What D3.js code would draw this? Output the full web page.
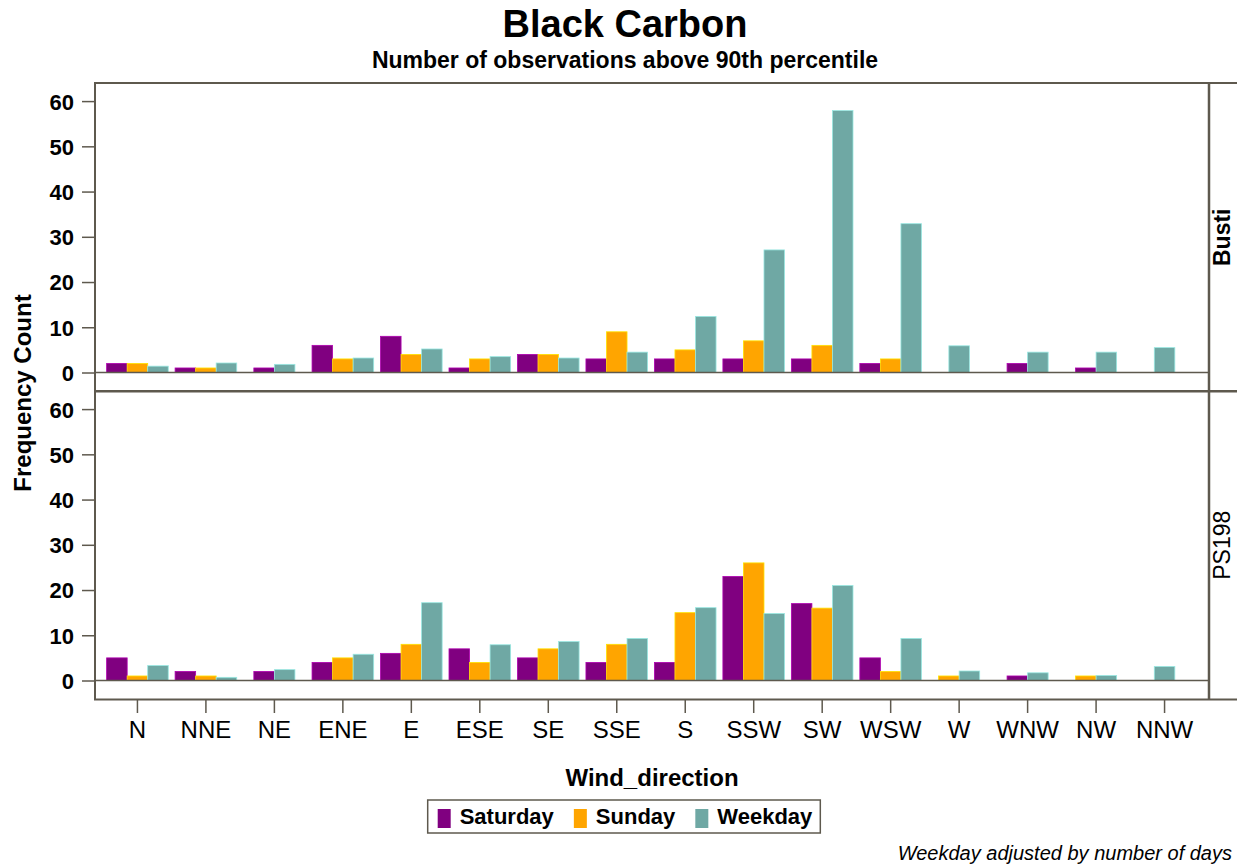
<!DOCTYPE html>
<html lang="en">
<head>
<meta charset="UTF-8">
<title>Black Carbon</title>
<script src="https://d3js.org/d3.v7.min.js"></script>
<style>
    body, html {
        margin: 0;
        padding: 0;
        background: #fff;
    }
    svg text {
        font-family: "Liberation Sans", Arial, sans-serif;
        fill: #000;
    }
</style>
</head>
<body>
<div id="chart"></div>
<script>
    // wind sectors along the x axis
    const categories = ["N", "NNE", "NE", "ENE", "E", "ESE", "SE", "SSE",
                        "S", "SSW", "SW", "WSW", "W", "WNW", "NW", "NNW"];
    const sites = ["Busti", "PS198"];
    const groups = ["Saturday", "Sunday", "Weekday"];
    const groupColors = ["#800080", "#FFA500", "#6FA8A4"];
    const yTicks = [0, 10, 20, 30, 40, 50, 60];

    // null = no bar in that cluster
    const bustiSaturday = [2, 1, 1, 6, 8, 1, 4, 3, 3, 3, 3, 2, null, 2, 1, null];
    const bustiSunday   = [2, 1, null, 3, 4, 3, 4, 9, 5, 7, 6, 3, null, null, null, null];
    const bustiWeekday  = [1.4, 2.1, 1.8, 3.2, 5.2, 3.5, 3.2, 4.5, 12.4, 27.1, 57.9, 32.9, 5.9, 4.5, 4.5, 5.5];

    const ps198Saturday = [5, 2, 2, 4, 6, 7, 5, 4, 4, 23, 17, 5, null, 1, null, null];
    const ps198Sunday   = [1, 1, null, 5, 8, 4, 7, 8, 15, 26, 16, 2, 1, null, 1, null];
    const ps198Weekday  = [3.3, 0.7, 2.4, 5.8, 17.2, 7.9, 8.6, 9.3, 16.1, 14.8, 21.0, 9.3, 2.1, 1.7, 1.1, 3.1];

    const siteSeries = {
        "Busti": [bustiSaturday, bustiSunday, bustiWeekday],
        "PS198": [ps198Saturday, ps198Sunday, ps198Weekday]
    };

    const W = 1237, H = 865;
    const plotLeft = 95, plotRight = 1209, stripRight = 1240;
    const panelTops = [83, 391];
    const panelH = 308.5;
    const frameColor = "#5e594e";

    const svg = d3.select("#chart").append("svg")
        .attr("width", W)
        .attr("height", H);

    const x = d3.scaleBand()
        .domain(categories)
        .range([103.2, 1198.8])
        .padding(0);
    const barW = x.bandwidth() * 0.3;

    // titles
    svg.append("text")
        .attr("x", 625).attr("y", 37)
        .attr("text-anchor", "middle")
        .style("font-size", "38px").style("font-weight", "bold")
        .text("Black Carbon");
    svg.append("text")
        .attr("x", 625).attr("y", 68)
        .attr("text-anchor", "middle")
        .style("font-size", "23px").style("font-weight", "bold")
        .text("Number of observations above 90th percentile");

    sites.forEach((site, i) => {
        const top = panelTops[i];
        const y = d3.scaleLinear()
            .domain([-4.2, 64])
            .range([top + panelH, top]);

        const g = svg.append("g");

        // bars: only present bars are packed and centred in each cluster
        categories.forEach((cat, ci) => {
            const present = [];
            groups.forEach((grp, gi) => {
                const v = siteSeries[site][gi][ci];
                if (v !== null) present.push({ gi: gi, v: v });
            });
            const start = x(cat) + x.bandwidth() / 2 - present.length * barW / 2;
            g.selectAll(null)
                .data(present)
                .enter().append("rect")
                .attr("x", (d, k) => start + k * barW)
                .attr("y", d => y(d.v))
                .attr("width", barW)
                .attr("height", d => y(0) - y(d.v))
                .attr("fill", d => groupColors[d.gi])
                .attr("stroke", d => d3.color(groupColors[d.gi]).brighter(0.9))
                .attr("stroke-width", 0.8);
        });

        // zero reference line
        g.append("line")
            .attr("x1", plotLeft).attr("x2", plotRight)
            .attr("y1", y(0)).attr("y2", y(0))
            .attr("stroke", frameColor)
            .attr("stroke-width", 1.5);

        // y axis
        const yAxis = g.append("g")
            .attr("transform", `translate(${plotLeft},0)`)
            .call(d3.axisLeft(y).tickValues(yTicks).tickSize(13).tickPadding(8));
        yAxis.select(".domain").remove();
        yAxis.selectAll(".tick line").attr("stroke", frameColor).attr("stroke-width", 1.5);
        yAxis.selectAll(".tick text")
            .style("font-size", "22px")
            .style("font-weight", "bold")
            .attr("dy", "0.36em");

        // panel frame and strip
        g.append("rect")
            .attr("x", plotLeft).attr("y", top)
            .attr("width", stripRight - plotLeft).attr("height", panelH)
            .attr("fill", "none")
            .attr("stroke", frameColor)
            .attr("stroke-width", 2);
        g.append("line")
            .attr("x1", plotRight).attr("x2", plotRight)
            .attr("y1", top).attr("y2", top + panelH)
            .attr("stroke", frameColor)
            .attr("stroke-width", 2.5);

        g.append("text")
            .attr("transform", `translate(1230,${top + panelH / 2}) rotate(-90)`)
            .attr("text-anchor", "middle")
            .style("font-size", "23px")
            .style("font-weight", i === 0 ? "bold" : "normal")
            .text(site);
    });

    // x axis below the lower panel
    const xAxis = svg.append("g")
        .attr("transform", "translate(0,700)")
        .call(d3.axisBottom(x).tickSize(13).tickPadding(8));
    xAxis.select(".domain").remove();
    xAxis.selectAll(".tick line").attr("stroke", frameColor).attr("stroke-width", 1.5);
    xAxis.selectAll(".tick text").style("font-size", "24px");

    svg.append("text")
        .attr("x", 652).attr("y", 786)
        .attr("text-anchor", "middle")
        .style("font-size", "24px").style("font-weight", "bold")
        .text("Wind_direction");

    svg.append("text")
        .attr("transform", "translate(31,393) rotate(-90)")
        .attr("text-anchor", "middle")
        .style("font-size", "24px").style("font-weight", "bold")
        .text("Frequency Count");

    // legend
    const legend = svg.append("g");
    const legendItems = legend.selectAll("g")
        .data(groups)
        .enter().append("g");
    legendItems.append("rect")
        .attr("width", 13).attr("height", 19)
        .attr("y", -15)
        .attr("fill", (d, i) => groupColors[i]);
    legendItems.append("text")
        .attr("x", 22)
        .style("font-size", "22px").style("font-weight", "bold")
        .text(d => d);
    let lx = 10;
    legendItems.each(function () {
        const tw = d3.select(this).select("text").node().getComputedTextLength();
        d3.select(this).attr("transform", `translate(${lx},0)`);
        lx += 22 + tw + 20;
    });
    const legendW = lx - 20 + 8;
    const legendLeft = 624 - legendW / 2;
    legend.attr("transform", `translate(${legendLeft},824)`);
    legend.insert("rect", ":first-child")
        .attr("x", 0).attr("y", -24)
        .attr("width", legendW).attr("height", 33)
        .attr("fill", "#fff")
        .attr("stroke", frameColor)
        .attr("stroke-width", 1.5);

    svg.append("text")
        .attr("x", 1232).attr("y", 860)
        .attr("text-anchor", "end")
        .style("font-size", "20px").style("font-style", "italic")
        .text("Weekday adjusted by number of days");
</script>
</body>
</html>
